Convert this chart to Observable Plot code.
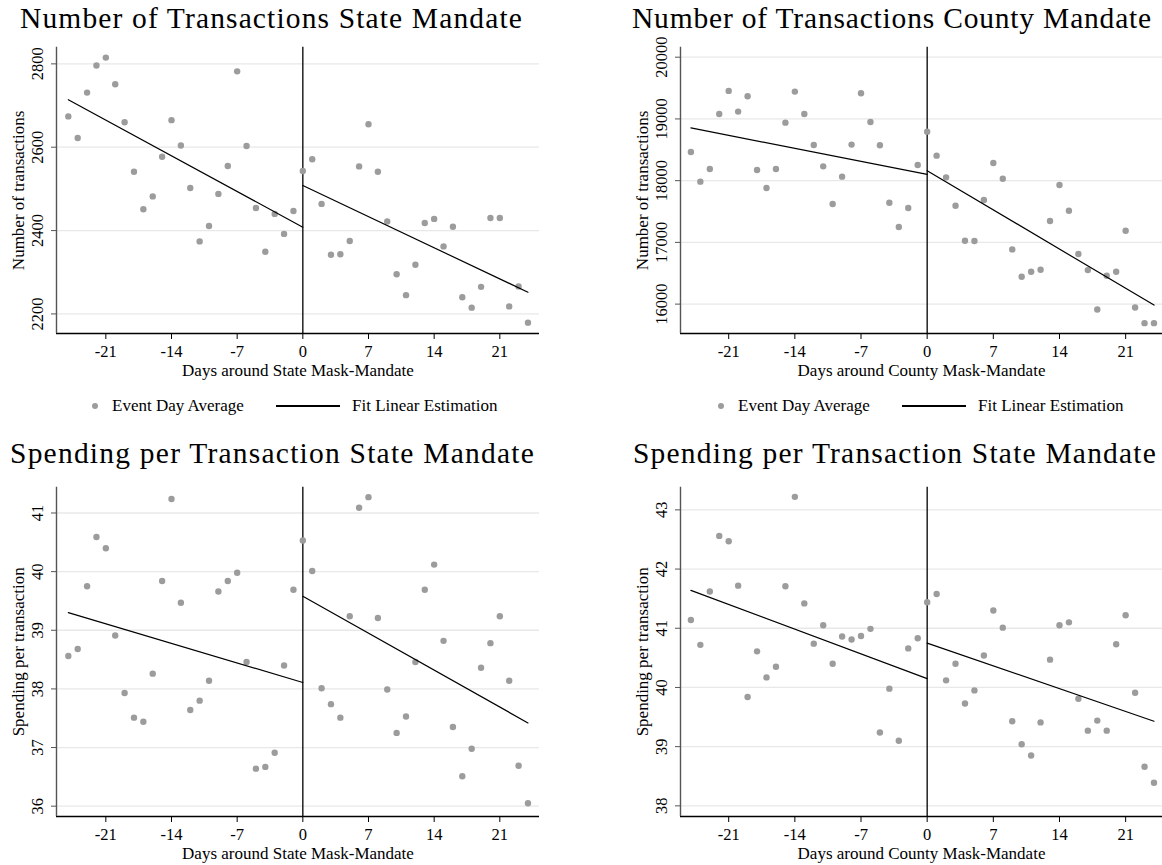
<!DOCTYPE html>
<html><head><meta charset="utf-8">
<script src="https://cdn.jsdelivr.net/npm/d3@7"></script>
<script src="https://cdn.jsdelivr.net/npm/@observablehq/plot@0.6"></script>
<style>
html,body{margin:0;padding:0;background:#fff;}
#root{position:relative;width:1162px;height:865px;overflow:hidden;font-family:"Liberation Serif","Times New Roman",serif;color:#000;}
.title{position:absolute;white-space:nowrap;font-size:29.5px;line-height:1;letter-spacing:0px;}
.panel{position:absolute;}
.panel svg{overflow:visible;}
.leg{position:absolute;font-size:17px;line-height:1;white-space:nowrap;}
</style></head><body><div id="root"></div>
<script>
// ---------- data ----------
const days = [-25,-24,-23,-22,-21,-20,-19,-18,-17,-16,-15,-14,-13,-12,-11,-10,-9,-8,-7,-6,-5,-4,-3,-2,-1,
              0,1,2,3,4,5,6,7,8,9,10,11,12,13,14,15,16,17,18,19,20,21,22,23,24];
const xTicks = [-21,-14,-7,0,7,14,21];

const txState = [2674,2622,2731,2796,2815,2751,2660,2541,2451,2482,2577,2665,2604,2502,2374,2411,2488,2555,2782,2603,2454,2349,2440,2392,2447,
                 2543,2571,2464,2342,2343,2375,2554,2655,2541,2422,2295,2245,2318,2418,2428,2362,2409,2240,2215,2265,2430,2430,2218,2266,2179];
const txCounty = [18465,17984,18189,19081,19454,19119,19367,18173,17881,18189,18940,19443,19081,18578,18232,17622,18065,18584,19416,18951,18573,17643,17249,17557,18254,
                  18794,18405,18054,17594,17027,17022,17686,18286,18032,16886,16443,16524,16557,17346,17930,17513,16811,16551,15914,16459,16524,17189,15946,15692,15692];
const spState = [38.56,38.68,39.75,40.59,40.40,38.91,37.93,37.51,37.44,38.26,39.84,41.24,39.47,37.64,37.80,38.14,39.66,39.84,39.98,38.46,36.64,36.67,36.91,38.40,39.69,
                 40.53,40.01,38.01,37.74,37.51,39.24,41.09,41.27,39.21,37.99,37.25,37.53,38.46,39.69,40.12,38.82,37.35,36.51,36.98,38.36,38.78,39.24,38.14,36.69,36.05];
const spCounty = [41.14,40.72,41.62,42.56,42.47,41.72,39.84,40.61,40.17,40.35,41.71,43.22,41.42,40.74,41.05,40.40,40.86,40.81,40.87,40.99,39.24,39.98,39.10,40.66,40.83,
                  41.44,41.58,40.12,40.40,39.73,39.95,40.54,41.30,41.01,39.43,39.04,38.85,39.41,40.47,41.05,41.10,39.81,39.27,39.44,39.27,40.73,41.22,39.91,38.66,38.39];

// fitted linear estimation endpoints
const fitPreDays = [-25, 0];
const fitPostDays = [0, 24];
const fitTxStatePre = [2714, 2408],   fitTxStatePost = [2508, 2252];
const fitTxCountyPre = [18854, 18103], fitTxCountyPost = [18162, 15984];
const fitSpStatePre = [39.30, 38.11],  fitSpStatePost = [39.58, 37.42];
const fitSpCountyPre = [41.64, 40.15], fitSpCountyPost = [40.75, 39.43];

const ticksTxState = [2200,2400,2600,2800];
const ticksTxCounty = [16000,17000,18000,19000,20000];
const ticksSpState = [36,37,38,39,40,41];
const ticksSpCounty = [38,39,40,41,42,43];

const titles = ["Number of Transactions State Mandate","Number of Transactions County Mandate",
                "Spending per Transaction State Mandate","Spending per Transaction State Mandate"];
const yLabels = ["Number of transactions","Number of transactions","Spending per transaction","Spending per transaction"];
const xLabels = ["Days around State Mask-Mandate","Days around County Mask-Mandate",
                 "Days around State Mask-Mandate","Days around County Mask-Mandate"];
const legendLabels = ["Event Day Average","Fit Linear Estimation"];

// ---------- drawing ----------
const FONT = '"Liberation Serif","Times New Roman",serif';
const DOT = "#9c9c9c";
const root = document.getElementById("root");

function panel(o){
  const data = days.map((d,i)=>({d, v:o.values[i]}));
  const pre = fitPreDays.map((d,i)=>({d, v:o.fitPre[i]}));
  const post = fitPostDays.map((d,i)=>({d, v:o.fitPost[i]}));
  const svg = Plot.plot({
    width:o.width, height:o.height,
    marginTop:o.mt, marginBottom:o.mb, marginLeft:o.ml, marginRight:o.mr,
    style:{fontFamily:FONT, fontSize:"17px", color:"#000", background:"transparent", overflow:"visible"},
    x:{domain:o.xDomain},
    y:{domain:o.yDomain},
    marks:[
      Plot.gridY(o.yTicks, {stroke:"#e8e8e8", strokeOpacity:1, strokeWidth:1.3}),
      Plot.ruleX([0], {stroke:"#000", strokeWidth:1.3}),
      Plot.ruleY([o.yDomain[0]], {stroke:"#000", strokeWidth:1.3}),
      Plot.ruleX([o.xDomain[0]], {stroke:"#555", strokeWidth:1.4}),
      Plot.dot(data, {x:"d", y:"v", r:3.2, fill:DOT, stroke:null}),
      Plot.line(pre, {x:"d", y:"v", stroke:"#000", strokeWidth:1.2}),
      Plot.line(post, {x:"d", y:"v", stroke:"#000", strokeWidth:1.2}),
      Plot.axisX(xTicks, {tickSize:6, tickPadding:6, tickFormat:d=>String(d), fontSize:16.5, label:null}),
      Plot.axisY(o.yTicks, {tickSize:5, tickFormat:()=>"", label:null, stroke:"#555"}),
      Plot.text(o.yTicks, {y:d=>d, text:d=>String(d), frameAnchor:"left", dx:-14, rotate:-90, textAnchor:"middle", lineAnchor:"bottom", fontSize:16.5}),
      Plot.text([o.yLabel], {frameAnchor:"left", dx:-33, rotate:-90, textAnchor:"middle", lineAnchor:"bottom", fontSize:17}),
      Plot.text([o.xLabel], {frameAnchor:"bottom", dy:42, textAnchor:"middle", lineAnchor:"bottom", fontSize:17})
    ]
  });
  const div = document.createElement("div");
  div.className = "panel";
  div.style.left = o.left+"px"; div.style.top = o.top+"px";
  div.appendChild(svg);
  root.appendChild(div);
}

function addTitle(text, left, baseline, targetW){
  const fs = 29.5;
  const div = document.createElement("div");
  div.className = "title"; div.textContent = text;
  div.style.left = left+"px"; div.style.top = (baseline - 0.8375*fs)+"px";
  root.appendChild(div);
  const w = div.getBoundingClientRect().width;
  div.style.letterSpacing = ((targetW - w)/text.length)+"px";
}

function addLegend(x0, baseline, cy){
  const dot = document.createElement("div");
  Object.assign(dot.style,{position:"absolute",left:(x0-3.2)+"px",top:(cy-3.2)+"px",width:"6.4px",height:"6.4px",borderRadius:"50%",background:DOT});
  root.appendChild(dot);
  const t1 = document.createElement("div");
  t1.className="leg"; t1.textContent=legendLabels[0];
  t1.style.left=(x0+17)+"px"; t1.style.top=(baseline-0.8375*17)+"px";
  root.appendChild(t1);
  const ln = document.createElement("div");
  Object.assign(ln.style,{position:"absolute",left:(x0+181)+"px",top:(cy-0.6)+"px",width:"64px",height:"1.2px",background:"#000"});
  root.appendChild(ln);
  const t2 = document.createElement("div");
  t2.className="leg"; t2.textContent=legendLabels[1];
  t2.style.left=(x0+257)+"px"; t2.style.top=(baseline-0.8375*17)+"px";
  root.appendChild(t2);
}

const LEFT = {left:0, width:560, ml:56, mr:21, xDomain:[-26.26, 25.23]};
const RIGHT = {left:580, width:582, ml:100, mr:0, xDomain:[-26.1, 24.9]};
const TOP = {top:36, height:347, mt:10.7, mb:50};
const BOT = {top:476, height:389, mt:10.7, mb:49};

panel({...LEFT, ...TOP, yDomain:[2153, 2840], yTicks:ticksTxState, values:txState, fitPre:fitTxStatePre, fitPost:fitTxStatePost, yLabel:yLabels[0], xLabel:xLabels[0]});
panel({...RIGHT, ...TOP, yDomain:[15524, 20162], yTicks:ticksTxCounty, values:txCounty, fitPre:fitTxCountyPre, fitPost:fitTxCountyPost, yLabel:yLabels[1], xLabel:xLabels[1]});
panel({...LEFT, ...BOT, yDomain:[35.824, 41.44], yTicks:ticksSpState, values:spState, fitPre:fitSpStatePre, fitPost:fitSpStatePost, yLabel:yLabels[2], xLabel:xLabels[2]});
panel({...RIGHT, ...BOT, yDomain:[37.82, 43.383], yTicks:ticksSpCounty, values:spCounty, fitPre:fitSpCountyPre, fitPost:fitSpCountyPost, yLabel:yLabels[3], xLabel:xLabels[3]});

addTitle(titles[0], 20, 29, 503);
addTitle(titles[1], 632, 29, 520);
addTitle(titles[2], 10, 464, 525);
addTitle(titles[3], 633, 464, 524);

addLegend(95, 411, 406);
addLegend(721, 411, 406);
</script>
</body></html>
